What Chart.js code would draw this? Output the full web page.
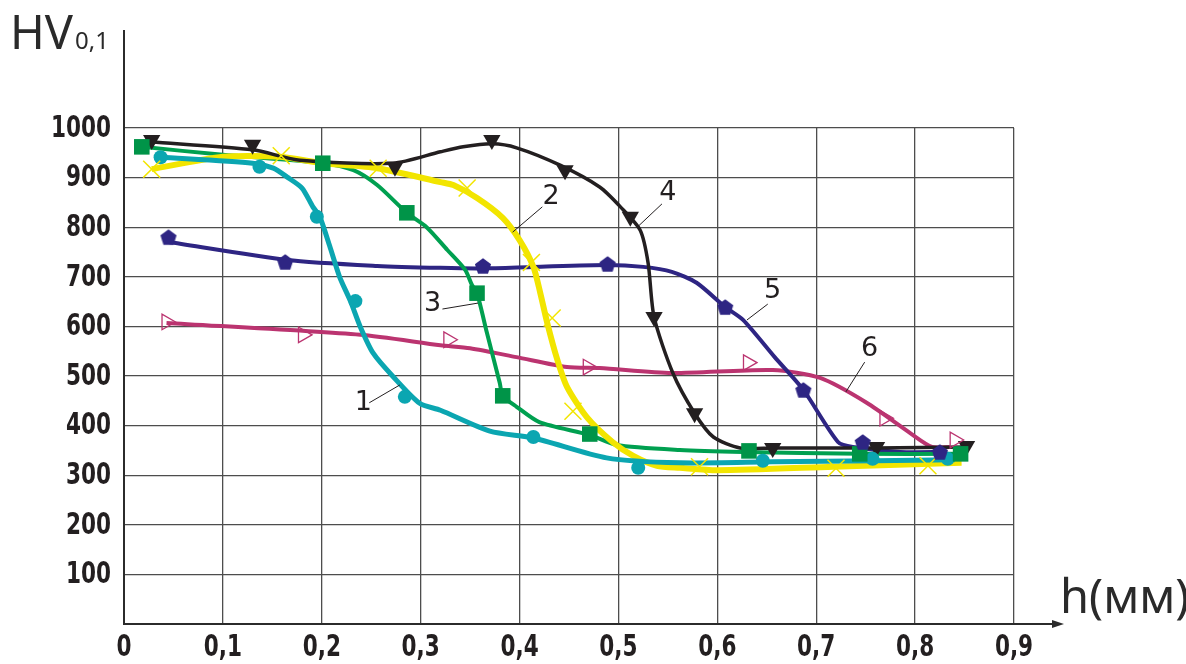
<!DOCTYPE html>
<html>
<head>
<meta charset="utf-8">
<title>HV0,1 - h</title>
<script src="https://cdn.jsdelivr.net/npm/chart.js@4.4.1/dist/chart.umd.min.js"></script>
<style>
  html, body { margin: 0; padding: 0; background: #fff; }
  #wrap { width: 1186px; height: 664px; }
</style>
</head>
<body>
<div id="wrap"><canvas id="hvChart" width="1186" height="664"></canvas></div>
<script>
// axis ticks
const xTicks = [0, 0.1, 0.2, 0.3, 0.4, 0.5, 0.6, 0.7, 0.8, 0.9];
const xTickLabels = ['0', '0,1', '0,2', '0,3', '0,4', '0,5', '0,6', '0,7', '0,8', '0,9'];
const yTicks = [100, 200, 300, 400, 500, 600, 700, 800, 900, 1000];
const yTickLabels = ['100', '200', '300', '400', '500', '600', '700', '800', '900', '1000'];

// curve 1 (teal, circles)
const line1X = [0.037, 0.13, 0.151, 0.165, 0.18, 0.191, 0.198, 0.208, 0.218, 0.229, 0.239, 0.252, 0.272, 0.299, 0.32, 0.37, 0.414, 0.488, 0.562, 0.656, 0.76, 0.84];
const line1Y = [941, 929, 919, 901, 879, 841, 821, 762, 700, 651, 599, 546, 499, 445, 431, 389, 375, 335, 325, 327, 329, 331];
const mark1X = [0.037, 0.137, 0.195, 0.234, 0.284, 0.414, 0.52, 0.646, 0.757, 0.833];
const mark1Y = [941, 922, 821, 651, 458, 377, 315, 329, 333, 333];

// curve 2 (yellow, crosses)
const line2X = [0.028, 0.1, 0.158, 0.201, 0.256, 0.32, 0.333, 0.357, 0.383, 0.4, 0.414, 0.421, 0.428, 0.438, 0.448, 0.468, 0.494, 0.515, 0.539, 0.562, 0.6, 0.717, 0.847];
const line2Y = [917, 942, 942, 929, 919, 891, 885, 859, 819, 774, 720, 667, 607, 534, 478, 417, 367, 339, 319, 315, 310, 317, 325];
const mark2X = [0.028, 0.159, 0.257, 0.347, 0.412, 0.433, 0.454, 0.582, 0.72, 0.813];
const mark2Y = [917, 944, 919, 879, 729, 617, 429, 317, 314, 319];

// curve 3 (green, squares)
const line3X = [0.018, 0.1, 0.201, 0.232, 0.256, 0.286, 0.306, 0.327, 0.345, 0.352, 0.357, 0.367, 0.38, 0.383, 0.397, 0.42, 0.471, 0.498, 0.562, 0.626, 0.744, 0.845];
const line3Y = [962, 946, 929, 915, 885, 829, 800, 754, 714, 683, 667, 587, 486, 460, 438, 407, 381, 361, 351, 347, 343, 343];
const mark3X = [0.018, 0.201, 0.286, 0.357, 0.383, 0.471, 0.632, 0.744, 0.846];
const mark3Y = [962, 929, 829, 667, 460, 383, 349, 343, 343];

// curve 4 (black, triangles)
const line4X = [0.028, 0.13, 0.178, 0.272, 0.32, 0.343, 0.372, 0.397, 0.441, 0.481, 0.502, 0.522, 0.53, 0.536, 0.555, 0.577, 0.596, 0.623, 0.656, 0.761, 0.852];
const line4Y = [972, 956, 935, 929, 952, 962, 968, 960, 925, 881, 841, 794, 728, 619, 506, 425, 377, 355, 355, 355, 357];
const mark4X = [0.028, 0.13, 0.274, 0.372, 0.446, 0.512, 0.536, 0.577, 0.656, 0.761, 0.852];
const mark4Y = [976, 966, 922, 976, 915, 821, 619, 425, 355, 357, 359];

// curve 5 (indigo, pentagons)
const line5X = [0.045, 0.165, 0.256, 0.32, 0.363, 0.414, 0.489, 0.525, 0.554, 0.579, 0.608, 0.626, 0.658, 0.687, 0.722, 0.737, 0.785, 0.832];
const line5Y = [770, 734, 722, 718, 717, 720, 724, 720, 710, 688, 639, 613, 538, 472, 367, 357, 347, 347];
const mark5X = [0.045, 0.163, 0.363, 0.489, 0.608, 0.687, 0.747, 0.825];
const mark5Y = [780, 730, 722, 726, 639, 472, 367, 347];

// curve 6 (magenta, open triangles)
const line6X = [0.043, 0.239, 0.32, 0.35, 0.397, 0.448, 0.481, 0.554, 0.656, 0.704, 0.751, 0.795, 0.817, 0.835];
const line6Y = [607, 583, 562, 556, 538, 518, 516, 506, 512, 496, 446, 385, 357, 357];
const mark6X = [0.043, 0.181, 0.328, 0.469, 0.631, 0.769, 0.84];
const mark6Y = [609, 583, 573, 518, 527, 415, 371];

// curve numbers with leader lines (data coords)
const curveNames = ['1', '2', '3', '4', '5', '6'];
const nameAt = [[0.242, 446], [0.432, 861], [0.312, 645], [0.55, 869], [0.656, 671], [0.754, 554]];
const leaderFrom = [[0.248, 446], [0.423, 841], [0.322, 635], [0.544, 847], [0.651, 645], [0.749, 528]];
const leaderTo = [[0.279, 482], [0.393, 790], [0.358, 647], [0.519, 800], [0.63, 613], [0.73, 468]];

const TEAL = '#0ba6b1';
const YELLOW = '#f2e500';
const GREEN = '#00a050';
const BLACK = '#231f20';
const INDIGO = '#2e2583';
const MAGENTA = '#bb3470';

const pts = (xs, ys) => xs.map((x, i) => ({ x: x, y: ys[i] }));

// there is no pentagon point style, so draw one
const pentagon = (function () {
    const c = document.createElement('canvas');
    c.width = 18;
    c.height = 18;
    const g = c.getContext('2d');
    g.fillStyle = INDIGO;
    g.beginPath();
    for (let i = 0; i < 5; i++) {
        const a = -Math.PI / 2 + i * 2 * Math.PI / 5;
        const px = 9 + 8.5 * Math.cos(a);
        const py = 9.8 + 8.5 * Math.sin(a);
        if (i === 0) g.moveTo(px, py); else g.lineTo(px, py);
    }
    g.closePath();
    g.fill();
    return c;
})();

function curve(xs, ys, color, width, order) {
    return {
        data: pts(xs, ys),
        borderColor: color,
        borderWidth: width,
        pointRadius: 0,
        tension: 0.25,
        fill: false,
        order: order
    };
}

function marks(xs, ys, style, radius, fillColor, lineColor, lineWidth, rotation) {
    return {
        data: pts(xs, ys),
        showLine: false,
        pointStyle: style,
        pointRadius: radius,
        pointRotation: rotation || 0,
        pointBackgroundColor: fillColor,
        pointBorderColor: lineColor,
        pointBorderWidth: lineWidth,
        order: 0
    };
}

// the tick font is a bold condensed face squeezed a bit more
const TICK_FONT = 'bold 30px "DejaVu Sans Condensed"';
const SQUEEZE = 0.8;

function squeezedText(ctx, text, x, y, align) {
    ctx.save();
    ctx.scale(SQUEEZE, 1);
    ctx.textAlign = align;
    ctx.fillText(text, x / SQUEEZE, y);
    ctx.restore();
}

const extras = {
    id: 'extras',
    afterDraw(chart) {
        const ctx = chart.ctx;
        const xs = chart.scales.x;
        const ys = chart.scales.y;
        const area = chart.chartArea;
        ctx.save();

        // axis extensions and arrow
        ctx.strokeStyle = '#2b2b2b';
        ctx.fillStyle = '#2b2b2b';
        ctx.lineWidth = 2;
        ctx.beginPath();
        ctx.moveTo(area.left, area.top);
        ctx.lineTo(area.left, 30);
        ctx.moveTo(area.right, area.bottom);
        ctx.lineTo(1056, area.bottom);
        ctx.stroke();
        ctx.beginPath();
        ctx.moveTo(1064, area.bottom);
        ctx.lineTo(1052, area.bottom - 4);
        ctx.lineTo(1052, area.bottom + 4);
        ctx.closePath();
        ctx.fill();

        // tick labels
        ctx.fillStyle = '#231f20';
        ctx.font = TICK_FONT;
        ctx.textBaseline = 'middle';
        xTicks.forEach((v, i) => {
            squeezedText(ctx, xTickLabels[i], xs.getPixelForValue(v), area.bottom + 24, 'center');
        });
        yTicks.forEach((v, i) => {
            squeezedText(ctx, yTickLabels[i], area.left - 13, ys.getPixelForValue(v) + 1, 'right');
        });

        // axis titles
        ctx.fillStyle = '#2a2a2a';
        ctx.textBaseline = 'alphabetic';
        ctx.textAlign = 'left';
        ctx.font = '47px "Noto Sans"';
        ctx.fillText('HV', 10, 49);
        ctx.font = '24px "Noto Sans"';
        ctx.fillText('0,1', 75, 49);
        ctx.font = '47px "Noto Sans"';
        ctx.fillText('h(мм)', 1060, 613);

        // curve numbers
        ctx.fillStyle = BLACK;
        ctx.strokeStyle = BLACK;
        ctx.lineWidth = 1;
        ctx.font = '27px "DejaVu Sans"';
        ctx.textAlign = 'center';
        ctx.textBaseline = 'middle';
        curveNames.forEach((name, i) => {
            ctx.fillText(name, xs.getPixelForValue(nameAt[i][0]), ys.getPixelForValue(nameAt[i][1]));
            ctx.beginPath();
            ctx.moveTo(xs.getPixelForValue(leaderFrom[i][0]), ys.getPixelForValue(leaderFrom[i][1]));
            ctx.lineTo(xs.getPixelForValue(leaderTo[i][0]), ys.getPixelForValue(leaderTo[i][1]));
            ctx.stroke();
        });
        ctx.restore();
    }
};

const ctx = document.getElementById('hvChart').getContext('2d');
const hvChart = new Chart(ctx, {
    type: 'line',
    data: {
        datasets: [
            curve(line6X, line6Y, MAGENTA, 4, 7),
            curve(line5X, line5Y, INDIGO, 4, 6),
            curve(line3X, line3Y, GREEN, 4, 5),
            curve(line2X, line2Y, YELLOW, 6, 4),
            curve(line1X, line1Y, TEAL, 5, 3),
            curve(line4X, line4Y, BLACK, 3.5, 2),
            marks(mark6X, mark6Y, 'triangle', 9, 'rgba(255,255,255,0)', MAGENTA, 1.3, 90),
            marks(mark5X, mark5Y, pentagon, 9, INDIGO, INDIGO, 0),
            marks(mark3X, mark3Y, 'rect', 11, '#009448', '#009448', 0),
            marks(mark2X, mark2Y, 'crossRot', 12, YELLOW, YELLOW, 1.5),
            marks(mark1X, mark1Y, 'circle', 7, TEAL, TEAL, 0),
            marks(mark4X, mark4Y, 'triangle', 10, BLACK, BLACK, 0, 180)
        ]
    },
    options: {
        responsive: false,
        animation: false,
        layout: { padding: { left: 0, top: 128, right: 172, bottom: 0 } },
        plugins: {
            legend: { display: false },
            tooltip: { enabled: false }
        },
        scales: {
            x: {
                type: 'linear',
                min: 0,
                max: 0.9,
                afterBuildTicks: s => { s.ticks = xTicks.map(v => ({ value: v })); },
                afterFit: s => { s.height = 40; },
                ticks: { display: false },
                grid: { color: '#4d4d4d', lineWidth: 1.3, drawTicks: false },
                border: { color: '#2b2b2b', width: 2 }
            },
            y: {
                min: 0,
                max: 1000,
                afterBuildTicks: s => { s.ticks = yTicks.map(v => ({ value: v })); },
                afterFit: s => { s.width = 124; },
                ticks: { display: false },
                grid: { color: '#4d4d4d', lineWidth: 1.3, drawTicks: false },
                border: { color: '#2b2b2b', width: 2 }
            }
        }
    },
    plugins: [extras]
});
</script>
</body>
</html>
